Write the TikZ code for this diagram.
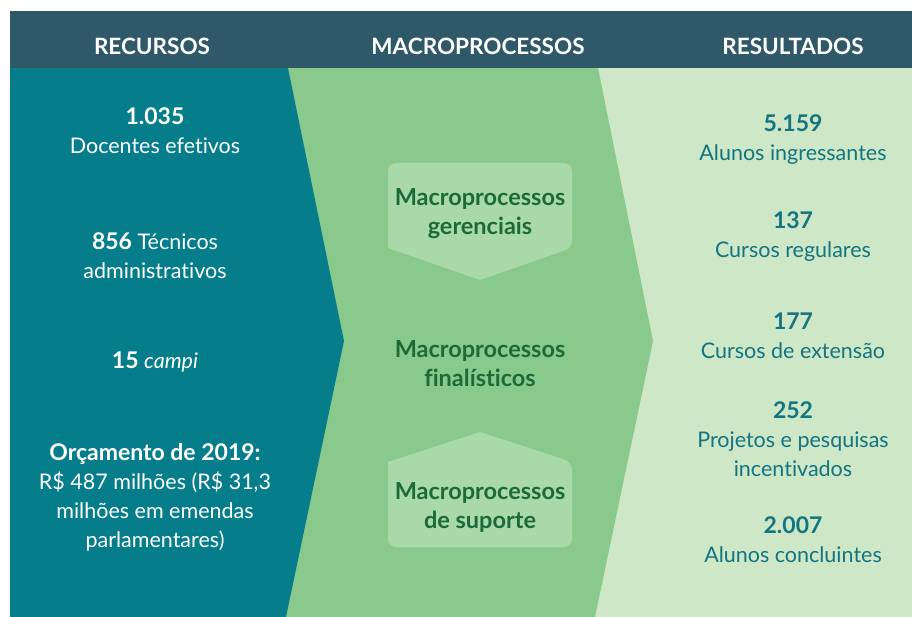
\documentclass[tikz,border=0pt]{standalone}
\usepackage{fontspec}
\setmainfont[Ligatures=NoCommon]{Lato}
\definecolor{hdr}{HTML}{2F5868}
\definecolor{teal}{HTML}{057D8B}
\definecolor{midg}{HTML}{89C98C}
\definecolor{lightg}{HTML}{CDE7C7}
\definecolor{boxg}{HTML}{AAD9A9}
\definecolor{dkg}{HTML}{1B6B3A}
\definecolor{rtxt}{HTML}{137482}
\newcommand{\bnum}[1]{{\fontsize{23}{29}\selectfont\bfseries #1}}
\begin{document}
\begin{tikzpicture}[x=1pt,y=-1pt,
  hdrtext/.style={text=white,font=\fontsize{22.5}{22}\selectfont\bfseries},
  lefttext/.style={text=white,align=center,font=\fontsize{21.5}{29}\selectfont},
  midtext/.style={text=dkg,align=center,font=\fontsize{23.5}{29}\selectfont\bfseries},
  righttext/.style={text=rtxt,align=center,font=\fontsize{21.5}{29}\selectfont}]
\useasboundingbox (0,0) rectangle (912,617);
\fill[white] (0,0) rectangle (912,617);
% panels
\fill[lightg] (10,68) rectangle (912,617);
\fill[midg] (10,68) -- (598,68) -- (653,341) -- (595,617) -- (10,617) -- cycle;
\fill[teal] (10,68) -- (288,68) -- (344,341) -- (286,617) -- (10,617) -- cycle;
\fill[hdr] (10,11) rectangle (912,68);
% inner boxes
\fill[boxg,rounded corners=8pt] (388,248) -- (388,163) -- (572,163) -- (572,248) [sharp corners] -- (480,280) -- cycle;
\fill[boxg,rounded corners=8pt] (388,462) -- (388,547) -- (572,547) -- (572,462) [sharp corners] -- (480,432) -- cycle;
% header
\node[hdrtext] (h1) at (152,46) {RECURSOS};
\node[hdrtext] (h2) at (478,46) {MACROPROCESSOS};
\node[hdrtext] (h3) at (793,46) {RESULTADOS};
% left
\node[lefttext] (l1) at (155,131) {\bnum{1.035}\\Docentes efetivos};
\node[lefttext] (l2) at (155,256) {\bnum{856} Técnicos\\administrativos};
\node[lefttext] (l3) at (155,362) {\bnum{15} \textit{campi}};
\node[lefttext] (l4) at (155,497) {\bnum{Orçamento de 2019:}\\R\$ 487 milhões (R\$ 31,3\\milhões em emendas\\parlamentares)};
% middle
\node[midtext] (m1) at (480,214) {Macroprocessos\\gerenciais};
\node[midtext] (m2) at (480,364) {Macroprocessos\\finalísticos};
\node[midtext] (m3) at (480,507) {Macroprocessos\\de suporte};
% right
\node[righttext] (r1) at (793,140) {\bnum{5.159}\\Alunos ingressantes};
\node[righttext] (r2) at (793,237) {\bnum{137}\\Cursos regulares};
\node[righttext] (r3) at (793,336) {\bnum{177}\\Cursos de extensão};
\node[righttext] (r4) at (793,439) {\bnum{252}\\Projetos e pesquisas\\incentivados};
\node[righttext] (r5) at (793,540) {\bnum{2.007}\\Alunos concluintes};
\end{tikzpicture}
\end{document}
